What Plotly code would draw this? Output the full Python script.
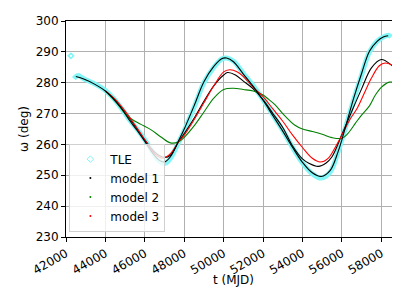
import plotly.graph_objects as go

# ---- data ----
tle_t = [42400, 42600, 42900, 43400, 44000, 44400, 44800, 45200, 45600, 46000, 46400, 46700,
         47000, 47300, 47700, 48000, 48500, 49000, 49500, 49900, 50150, 50500, 51000, 51500,
         52000, 52500, 53000, 53500, 54000, 54500, 54950, 55400, 55800, 56000, 56300, 56600,
         57000, 57400, 57800, 58100, 58350, 58500]
tle_w = [281.3, 282.3, 281.3, 279.8, 277.5, 275.0, 271.8, 268.2, 265.0, 261.5, 257.5, 254.8,
         253.8, 255.5, 260.5, 264.5, 272.0, 280.0, 285.0, 287.7, 288.0, 287.0, 283.0, 279.0,
         274.5, 269.5, 264.5, 259.0, 254.0, 250.5, 249.1, 251.0, 257.5, 261.5, 268.0, 274.5,
         282.5, 290.0, 293.5, 294.8, 295.4, 294.8]
tle_out_t = [42250]
tle_out_w = [288.7]

m1_t = [42500, 42900, 43400, 44000, 44400, 44800, 45200, 45600, 46000, 46400, 46700, 47000,
        47300, 47700, 48000, 48500, 49000, 49500, 49900, 50150, 50500, 51000, 51500, 52000,
        52500, 53000, 53500, 54000, 54500, 54950, 55400, 55800, 56000, 56300, 56600, 57000,
        57400, 57800, 58100, 58350]
m1_w = [282.0, 281.2, 279.7, 277.3, 274.8, 271.8, 268.0, 264.6, 261.0, 257.2, 255.0, 254.3,
        256.0, 261.0, 265.0, 272.5, 280.3, 285.3, 287.8, 288.0, 286.8, 282.8, 278.8, 274.3,
        269.3, 264.3, 259.0, 254.2, 250.8, 249.6, 251.5, 257.5, 261.5, 268.3, 275.0, 283.0,
        290.2, 293.5, 294.8, 295.2]

m2_t = [44000, 44500, 45000, 45300, 45800, 46300, 46800, 47300, 47700, 48000, 48500, 49000,
        49500, 50000, 50500, 51000, 51500, 52000, 52300, 52600, 53000, 53600, 54000, 54500,
        55000, 55500, 56000, 56300, 56700, 57000, 57400, 57700, 58000, 58400, 58700, 59000]
m2_w = [277.3, 274.0, 270.0, 268.3, 266.5, 264.8, 262.5, 260.5, 260.8, 262.3, 266.0, 270.5,
        275.0, 277.8, 278.2, 277.8, 277.3, 276.0, 274.5, 272.9, 270.0, 266.3, 265.0, 264.2,
        263.3, 262.2, 262.0, 263.5, 267.0, 269.5, 272.5, 276.0, 278.5, 280.2, 280.0, 279.5]

m3_t = [44000, 44500, 45000, 45500, 46000, 46500, 46900, 47300, 47700, 48000, 48500, 49000,
        49500, 50000, 50300, 50700, 51000, 51500, 52000, 52500, 53000, 53500, 54000, 54500,
        54900, 55300, 55700, 56000, 56400, 56800, 57200, 57500, 57900, 58200, 58600, 59000]
m3_w = [277.3, 274.6, 270.8, 266.3, 261.5, 257.0, 255.5, 257.0, 260.7, 263.0, 268.0, 273.5,
        279.0, 283.5, 284.2, 283.5, 282.0, 278.5, 275.5, 271.5, 267.5, 263.0, 259.0, 255.5,
        254.3, 255.5, 259.5, 263.0, 268.0, 272.0, 277.5, 281.5, 285.5, 286.4, 285.5, 283.5]

# unlabeled extra black curve
m4_t = [44000, 44500, 45000, 45500, 46000, 46500, 47000, 47300, 47700, 48000, 48500, 49000,
        49500, 50000, 50200, 50600, 51000, 51500, 52000, 52500, 53000, 53500, 54000, 54300,
        54800, 55200, 55500, 56000, 56500, 57000, 57500, 58000, 58500, 59000]
m4_w = [277.3, 274.3, 270.2, 266.0, 261.5, 257.5, 255.8, 256.5, 260.7, 263.5, 268.5, 274.0,
        279.0, 282.5, 283.3, 282.5, 280.5, 278.0, 274.5, 270.0, 265.5, 259.5, 255.3, 254.0,
        252.9, 254.0, 256.0, 263.2, 270.7, 278.0, 284.8, 287.5, 285.8, 282.6]

x_ticks = [42000, 44000, 46000, 48000, 50000, 52000, 54000, 56000, 58000]
y_ticks = [230, 240, 250, 260, 270, 280, 290, 300]

FONT = "DejaVu Sans"
CYAN = "#80f6f6"

fig = go.Figure()

fig.add_trace(go.Scatter(x=tle_t, y=tle_w, mode="lines", line=dict(color=CYAN, width=5, shape="spline"),
                         showlegend=False, hoverinfo="skip"))
fig.add_trace(go.Scatter(x=tle_out_t, y=tle_out_w, mode="markers",
                         marker=dict(symbol="diamond-open", color=CYAN, size=4, line=dict(width=1.5)),
                         showlegend=False))
fig.add_trace(go.Scatter(x=m4_t, y=m4_w, mode="lines", line=dict(color="black", width=1.1, shape="spline"),
                         showlegend=False))
fig.add_trace(go.Scatter(x=m2_t, y=m2_w, mode="lines", line=dict(color="green", width=1.1, shape="spline"),
                         showlegend=False))
fig.add_trace(go.Scatter(x=m3_t, y=m3_w, mode="lines", line=dict(color="red", width=1.1, shape="spline"),
                         showlegend=False))
fig.add_trace(go.Scatter(x=m1_t, y=m1_w, mode="lines", line=dict(color="black", width=1.1, shape="spline"),
                         showlegend=False))

# legend entries
fig.add_trace(go.Scatter(x=[None], y=[None], mode="markers", name="TLE",
                         marker=dict(symbol="diamond-open", color=CYAN, size=5, line=dict(width=1))))
fig.add_trace(go.Scatter(x=[None], y=[None], mode="markers", name="model 1",
                         marker=dict(color="black", size=2)))
fig.add_trace(go.Scatter(x=[None], y=[None], mode="markers", name="model 2",
                         marker=dict(color="green", size=2)))
fig.add_trace(go.Scatter(x=[None], y=[None], mode="markers", name="model 3",
                         marker=dict(color="red", size=2)))

axis_common = dict(showline=True, linecolor="black", linewidth=1, mirror=True,
                   showgrid=True, gridcolor="#b0b0b0", gridwidth=1,
                   ticks="outside", ticklen=4, tickcolor="black", zeroline=False,
                   tickfont=dict(family=FONT, size=12, color="black"))

fig.update_layout(
    width=400, height=291,
    margin=dict(l=58, r=7, t=13, b=62),
    paper_bgcolor="white", plot_bgcolor="white",
    font=dict(family=FONT, size=12, color="black"),
    xaxis=dict(range=[42000, 59000], tickvals=x_ticks, ticktext=[str(v) for v in x_ticks],
               tickangle=-30, automargin=False, **axis_common),
    yaxis=dict(range=[230, 300], tickvals=y_ticks, ticktext=[str(v) for v in y_ticks],
               automargin=False,
               title=dict(text="ω (deg)", font=dict(family=FONT, size=12), standoff=4),
               **axis_common),
    legend=dict(x=0.01, y=0.025, xanchor="left", yanchor="bottom",
                bgcolor="rgba(255,255,255,0.8)", bordercolor="#d0d0d0", borderwidth=1,
                font=dict(family=FONT, size=12), tracegroupgap=0),
    showlegend=True,
    annotations=[dict(text="t (MJD)", xref="paper", yref="paper", x=0.5, y=-0.2,
                      xanchor="center", yanchor="middle", showarrow=False,
                      font=dict(family=FONT, size=12, color="black"))],
)

fig.write_html("out.html")
